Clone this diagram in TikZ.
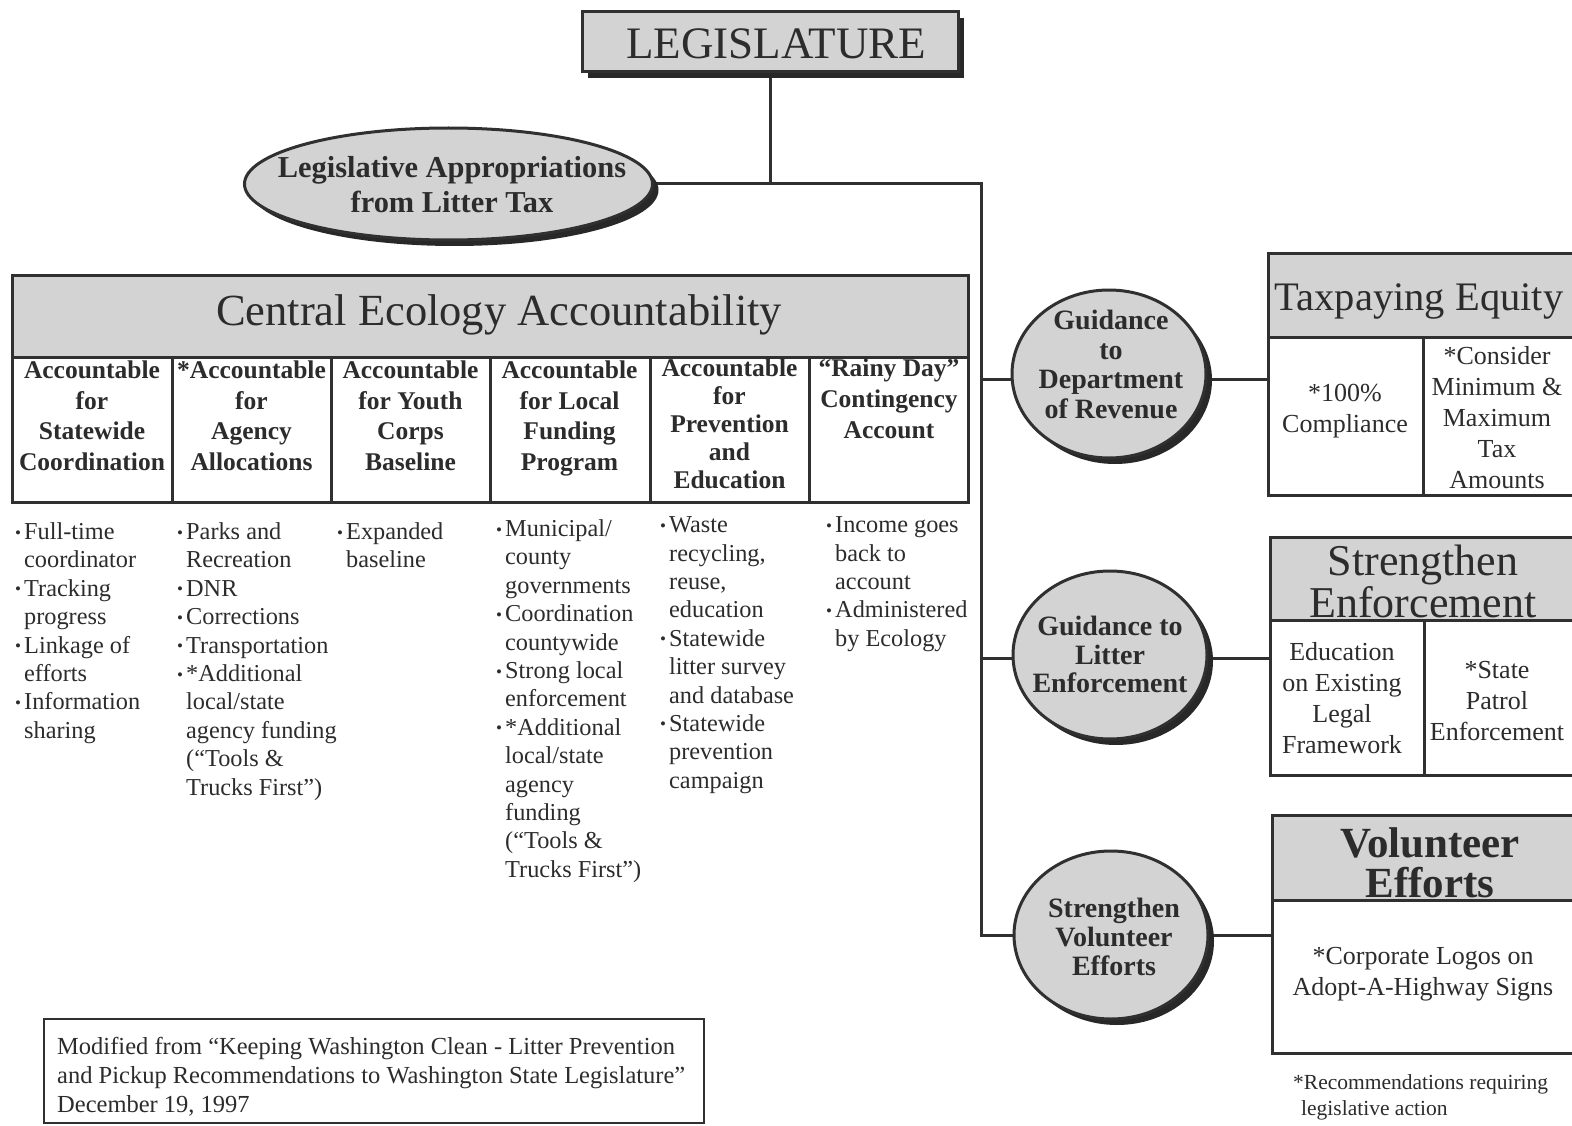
\documentclass[tikz,border=0pt]{standalone}
\usepackage{fontspec}
\setmainfont{Liberation Serif}
\usepackage{graphicx}
\usetikzlibrary{shapes.geometric,shadows,backgrounds}
\definecolor{ln}{HTML}{303030}
\definecolor{gf}{HTML}{D3D3D3}
\definecolor{tx}{HTML}{2C2C2C}
\definecolor{sh}{HTML}{282828}
\newcommand\fsz[2]{\fontsize{#1}{#2}\selectfont}
\newcommand\bu{\makebox[9pt][l]{\raisebox{1.5pt}{\scalebox{0.7}{\textbullet}}}}
\newcommand\ii{\hspace*{9pt}}
\begin{document}
\begin{tikzpicture}[x=1pt,y=-1pt,
  conn/.style={draw=ln, line width=3pt},
  frame/.style={draw=ln, line width=3pt},
  txt/.style={text=tx, inner sep=0pt, align=center},
  hdr/.style={txt, anchor=north, font=\bfseries\fsz{25.5}{30.5}},
  lst/.style={text=tx, inner sep=0pt, align=left, anchor=north west, font=\fsz{24.3}{28.4}},
  cell/.style={txt, anchor=north, font=\fsz{26}{31}},
  shd/.style={drop shadow={shadow xshift=6pt, shadow yshift=-6pt, fill=sh, opacity=1}},
  boxn/.style={rectangle, draw=ln, line width=3pt, fill=gf, inner sep=0pt, shd},
  ovaln/.style={ellipse, draw=ln, line width=3pt, fill=gf, inner sep=0pt, shd},
  ]
\useasboundingbox (0,0) rectangle (1572,1126);
\clip (0,0) rectangle (1572,1126);

% ---------- top ----------
\node[boxn, minimum width=376pt, minimum height=60pt] (leg) at (770,42) {};
\node[txt, anchor=north, font=\fsz{45}{48}] (legt) at (776,28.5) {LEGISLATURE};

\node[ovaln, minimum width=408pt, minimum height=112pt] (app) at (448.5,184) {};
\node[txt, anchor=north, font=\bfseries\fsz{30.4}{35}] (appt) at (452,156) {Legislative Appropriations\\from Litter Tax};

% ---------- central table ----------
\draw[frame, fill=gf] (12,275) rectangle (968,357);
\draw[frame] (12,357) rectangle (968,502);
\foreach \x in {172,331,490,650,809} \draw[frame] (\x,357) -- (\x,502);
\node[txt, anchor=base, font=\fsz{44.5}{50}] (cea) at (499,325) {Central Ecology Accountability};

\node[hdr] (h1) at (92,361) {Accountable\\for\\Statewide\\Coordination};
\node[hdr] (h2) at (251.5,361) {*Accountable\\for\\Agency\\Allocations};
\node[hdr] (h3) at (410.5,361) {Accountable\\for Youth\\Corps\\Baseline};
\node[hdr] (h4) at (569.5,361) {Accountable\\for Local\\Funding\\Program};
\node[hdr, font=\bfseries\fsz{25.5}{28}] (h5) at (729.5,358.5) {Accountable\\for\\Prevention\\and\\Education};
\node[hdr, font=\bfseries\fsz{25.5}{31}] (h6) at (889,358.5) {“Rainy Day”\\Contingency\\Account};

\node[lst] (l1) at (15,522.5) {\bu Full-time\\\ii coordinator\\\bu Tracking\\\ii progress\\\bu Linkage of\\\ii efforts\\\bu Information\\\ii sharing};
\node[lst] (l2) at (177,522.5) {\bu Parks and\\\ii Recreation\\\bu DNR\\\bu Corrections\\\bu Transportation\\\bu *Additional\\\ii local/state\\\ii agency funding\\\ii (“Tools \&\\\ii Trucks First”)};
\node[lst] (l3) at (337,522.5) {\bu Expanded\\\ii baseline};
\node[lst] (l4) at (496,519.5) {\bu Municipal/\\\ii county\\\ii governments\\\bu Coordination\\\ii countywide\\\bu Strong local\\\ii enforcement\\\bu *Additional\\\ii local/state\\\ii agency\\\ii funding\\\ii (“Tools \&\\\ii Trucks First”)};
\node[lst] (l5) at (660,516.5) {\bu Waste\\\ii recycling,\\\ii reuse,\\\ii education\\\bu Statewide\\\ii litter survey\\\ii and database\\\bu Statewide\\\ii prevention\\\ii campaign};
\node[lst] (l6) at (826,516.5) {\bu Income goes\\\ii back to\\\ii account\\\bu Administered\\\ii by Ecology};

% ---------- circles ----------
\node[ovaln, minimum width=194pt, minimum height=168pt] (c1) at (1109,374) {};
\node[txt, anchor=north, font=\bfseries\fsz{28}{29.5}] (c1t) at (1111,310) {Guidance\\to\\Department\\of Revenue};
\node[ovaln, minimum width=194pt, minimum height=168pt] (c2) at (1110,655) {};
\node[txt, anchor=north, font=\bfseries\fsz{28}{28.5}] (c2t) at (1110,616) {Guidance to\\Litter\\Enforcement};
\node[ovaln, minimum width=194pt, minimum height=168pt] (c3) at (1111,935) {};
\node[txt, anchor=north, font=\bfseries\fsz{28}{29}] (c3t) at (1114,898) {Strengthen\\Volunteer\\Efforts};

% ---------- right boxes ----------
\draw[frame, fill=gf] (1268,254) rectangle (1590,337);
\draw[frame] (1268,337) rectangle (1590,495);
\draw[frame] (1423,337) -- (1423,495);
\node[txt, anchor=base, font=\fsz{40.5}{44}] (te) at (1419,310) {Taxpaying Equity};
\node[cell] (te1) at (1345,384) {*100\%\\Compliance};
\node[cell] (te2) at (1497,346) {*Consider\\Minimum \&\\Maximum\\Tax\\Amounts};

\draw[frame, fill=gf] (1270,537) rectangle (1590,620);
\draw[frame] (1270,620) rectangle (1590,775);
\draw[frame] (1424,620) -- (1424,775);
\node[txt, anchor=north, font=\fsz{44}{40}] (se) at (1423,545) {Strengthen\\Enforcement};
\node[cell] (se1) at (1342,642) {Education\\on Existing\\Legal\\Framework};
\node[cell] (se2) at (1497,661) {*State\\Patrol\\Enforcement};

\draw[frame, fill=gf] (1272,815) rectangle (1590,900);
\draw[frame] (1272,900) rectangle (1590,1053);
\node[txt, anchor=north, font=\bfseries\fsz{43}{40}] (ve) at (1430,827) {Volunteer\\Efforts};
\node[cell] (ve1) at (1423,947) {*Corporate Logos on\\Adopt-A-Highway Signs};

\node[txt, align=left, anchor=north west, font=\fsz{21.5}{26}] (fn) at (1293,1074) {*Recommendations requiring\\\hspace*{8pt}legislative action};

% ---------- source box ----------
\draw[frame, line width=2.5pt] (44,1019) rectangle (704,1123);
\node[txt, align=left, anchor=north west, font=\fsz{24.5}{29}] (src) at (57,1037) {Modified from “Keeping Washington Clean - Litter Prevention\\and Pickup Recommendations to Washington State Legislature”\\December 19, 1997};

% ---------- connectors ----------
\coordinate (j) at (770,184);
\coordinate (t0) at (981,184);
\coordinate (t1) at (981,379);
\coordinate (t2) at (981,658);
\coordinate (t3) at (981,935);
\coordinate (b1) at (1268,379);
\coordinate (b2) at (1270,658);
\coordinate (b3) at (1272,935);
\begin{pgfonlayer}{background}
\fill[white] (0,0) rectangle (1572,1126);
\draw[conn] (leg.south) -- (j);
\draw[conn] (app.east) -- (t0) -- (t3) -- (b3);
\draw[conn] (t1) -- (b1);
\draw[conn] (t2) -- (b2);
\end{pgfonlayer}
\end{tikzpicture}
\end{document}
